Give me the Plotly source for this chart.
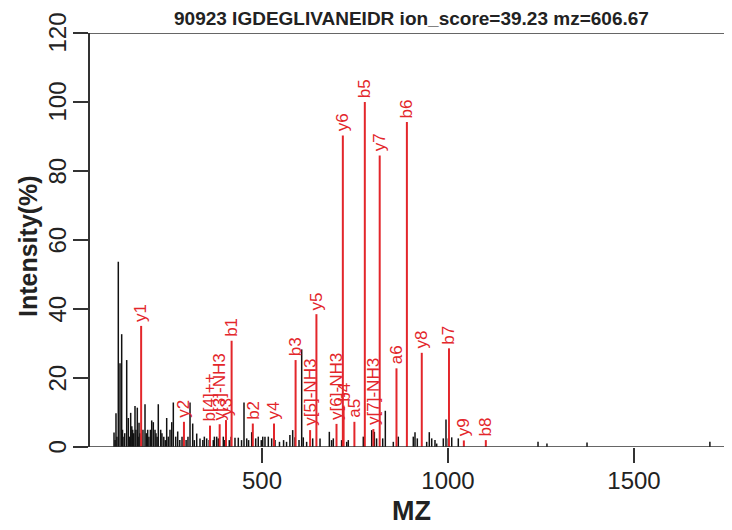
import plotly.graph_objects as go

# ---------------- data ----------------
title_text = "90923 IGDEGLIVANEIDR ion_score=39.23 mz=606.67"

# unmatched (black) peaks
black_mz = [102.2, 105, 107.5, 110, 113.7, 118.3, 122.8, 125, 129, 131, 136.3, 140.6, 144, 147,
            150, 152.4, 155, 158.6, 161, 164.8, 167, 169.4, 172, 180, 185.5, 189, 192.7, 196,
            200, 203.5, 207.8, 212.4, 215, 218, 221.2, 227.7, 231, 236, 240, 243.8, 248, 252.7,
            257.3, 261.6, 268, 273.4, 279, 285, 296, 301, 306.5, 313.7, 318, 324.5, 333.3, 341,
            345, 351.3, 358, 369, 372, 378.2, 382.5, 396, 400, 412, 417, 427.4, 436.3, 445,
            451.6, 458.9, 464, 472.3, 483, 490, 498, 502, 508, 517, 526, 535, 547, 558, 566,
            575, 582.5, 588.7, 599.5, 606.7, 611, 620, 636.3, 656, 681, 687, 691.7, 714, 727.7,
            732, 772.3, 794.9, 802, 808, 824.5, 831.5, 853, 866.4, 906.7, 911.3, 917.5, 942.7,
            949.7, 956.2, 965, 969.6, 987.4, 994.6, 1000.8, 1010, 1027.7, 1242, 1266, 1373.7, 1704]
black_int = [4.2, 2, 9.8, 3, 53.7, 24.3, 32.7, 5, 3, 4, 25.2, 8.4, 3, 9.9,
             6, 5, 4, 11.9, 5, 11.4, 3, 7, 4, 5, 12.4, 4, 5, 3,
             5, 7.7, 7.2, 5, 4, 3, 12.4, 5, 4, 3, 2, 8.4, 3, 5,
             7.2, 12.9, 3, 4.5, 2, 3, 2, 3, 12.9, 6.8, 2, 3.9, 2.5, 2,
             3, 2.5, 2, 2, 3, 3, 2.5, 3, 2, 2, 3, 2.7, 2.7, 2,
             12.9, 2.5, 2, 4.3, 2.5, 3, 2, 3, 3, 3, 2.5, 2, 1.5, 2, 1.5,
             3.5, 4.9, 2.8, 2, 28.3, 2.8, 1.5, 2.5, 2.5, 4.4, 2, 2.5, 2, 1.5,
             2, 3, 4.9, 4.4, 2.5, 2.5, 10.5, 1.5, 3, 3, 4.3, 2.5, 1.5,
             4.3, 2.5, 2, 1, 2.5, 8, 2.5, 2.8, 2.5, 1.5, 1, 1.3, 1.5]

# matched (red) fragment ions
ion_labels = ["y1", "y2", "b[4]++", "y[3]-NH3", "y3", "b1", "b2", "y4", "b3", "y[5]-NH3",
              "y5", "y[6]-NH3", "y6", "b4", "a5", "b5", "y[7]-NH3", "y7", "a6", "b6",
              "y8", "b7", "y9", "b8"]
ion_mz = [175.1, 290.2, 360.2, 386.2, 403.2, 418.3, 475.3, 532.3, 590.3, 629.3,
          646.3, 700.3, 717.3, 719.4, 748.4, 776.4, 799.4, 816.4, 861.5, 889.5,
          929.5, 1002.6, 1042.6, 1101.7]
ion_int = [35.1, 7.3, 6.2, 6.6, 7.8, 30.8, 6.8, 6.8, 25.2, 4.9,
           38.5, 6.7, 90.3, 12.0, 7.3, 100.0, 5.2, 84.5, 22.8, 94.2,
           27.3, 28.6, 1.9, 2.0]

x_ticks = [500, 1000, 1500]
y_ticks = [0, 20, 40, 60, 80, 100, 120]

# ---------------- style ----------------
RED = "#E3262B"
AX = "#333333"
FONT = "Liberation Sans, Arial, sans-serif"
OFF = 8                      # page body margin
W, H = 732 - OFF, 530 - OFF
ML, MR, MT, MB = 90 - OFF, 0, 33 - OFF, 83
PW, PH = W - ML - MR, H - MT - MB


def px_x(p):
    """reference pixel x -> paper x"""
    return (p - OFF - ML) / PW


def px_y(p):
    """reference pixel y -> paper y"""
    return (MT + PH - (p - OFF)) / PH


def sticks(xs, ys):
    sx, sy = [], []
    for x, y in zip(xs, ys):
        sx += [x, x, None]
        sy += [0, y, None]
    return sx, sy


fig = go.Figure()
bx, by = sticks(black_mz, black_int)
fig.add_trace(go.Scatter(x=bx, y=by, mode="lines", line=dict(color="#111111", width=1.5),
                         hoverinfo="skip", showlegend=False))
rx, ry = sticks(ion_mz, ion_int)
fig.add_trace(go.Scatter(x=rx, y=ry, mode="lines", line=dict(color=RED, width=2),
                         hoverinfo="skip", showlegend=False))

annotations = []
for lab, x, y in zip(ion_labels, ion_mz, ion_int):
    annotations.append(dict(x=x, y=y, xref="x", yref="y", text=lab, showarrow=False,
                            textangle=-90, xanchor="center", yanchor="bottom", yshift=2,
                            font=dict(family=FONT, size=17, color=RED)))
# y tick labels
for v in y_ticks:
    annotations.append(dict(x=px_x(56.5), y=v, xref="paper", yref="y", text=str(v),
                            showarrow=False, textangle=-90, xanchor="center", yanchor="middle",
                            font=dict(family=FONT, size=24, color="#222222")))
# title and axis titles
annotations.append(dict(x=px_x(411), y=px_y(18), xref="paper", yref="paper",
                        text="<b>" + title_text + "</b>", showarrow=False,
                        xanchor="center", yanchor="middle",
                        font=dict(family=FONT, size=19, color="#222222")))
annotations.append(dict(x=px_x(411), y=px_y(511), xref="paper", yref="paper",
                        text="<b>MZ</b>", showarrow=False, xanchor="center", yanchor="middle",
                        font=dict(family=FONT, size=27, color="#222222")))
annotations.append(dict(x=px_x(28), y=px_y(246), xref="paper", yref="paper",
                        text="<b>Intensity(%)</b>", showarrow=False, textangle=-90,
                        xanchor="center", yanchor="middle",
                        font=dict(family=FONT, size=25, color="#222222")))

shapes = [
    dict(type="line", xref="paper", yref="y", x0=-15 / PW, x1=1, y0=0, y1=0,
         line=dict(color=AX, width=1.5)),
    dict(type="line", xref="paper", yref="y", x0=-15 / PW, x1=1, y0=120, y1=120,
         line=dict(color=AX, width=1.5)),
]

# x range: reference pixel 76 is mz 0, 0.372 px per mz unit
px_per_unit = 0.372
x_left = (90 - 76) / px_per_unit
x_right = (732 - 76) / px_per_unit

fig.update_layout(
    width=W, height=H,
    margin=dict(l=ML, r=MR, t=MT, b=MB, pad=0),
    paper_bgcolor="white", plot_bgcolor="white",
    font=dict(family=FONT, color="#222222"),
    annotations=annotations, shapes=shapes,
    xaxis=dict(range=[x_left, x_right], tickvals=x_ticks, ticks="outside", ticklen=15,
               tickwidth=1.5, tickcolor=AX, showgrid=False, zeroline=False, showline=False,
               tickfont=dict(family=FONT, size=24, color="#222222"), ticklabelstandoff=-3),
    yaxis=dict(range=[0, 120], tickvals=y_ticks, ticks="outside", ticklen=15, tickwidth=1.5,
               tickcolor=AX, showgrid=False, zeroline=False, showline=True, linecolor=AX,
               linewidth=1.5, showticklabels=False),
)

fig.write_html("out.html")
